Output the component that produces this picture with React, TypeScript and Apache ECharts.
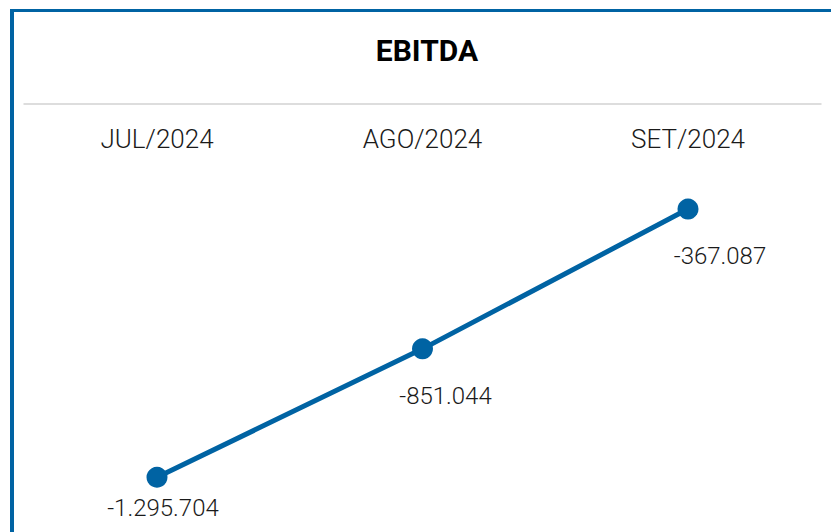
import React, { useEffect, useRef } from "react";
import * as echarts from "echarts";

const categories = ["JUL/2024", "AGO/2024", "SET/2024"];
const ebitda = [-1295704, -851044, -367087];
const valueLabels = ["-1.295.704", "-851.044", "-367.087"];

const BLUE = "#0063A3";
const FONT = "Roboto";

export default function App() {
  const ref = useRef<HTMLDivElement>(null);
  useEffect(() => {
    if (!ref.current) return;
    const chart = echarts.init(ref.current, undefined, { renderer: "svg" });
    const labelOffsets = [
      [6, 31],
      [23, 47],
      [32, 47],
    ];
    chart.setOption({
      animation: false,
      backgroundColor: "#ffffff",
      grid: { left: 24.25, right: 10.25, top: 104, bottom: 0 },
      xAxis: {
        type: "category",
        data: categories,
        position: "top",
        boundaryGap: true,
        axisLine: { show: true, lineStyle: { color: "#dddddd", width: 2 } },
        axisTick: { show: false },
        splitLine: { show: false },
        axisLabel: {
          inside: true,
          margin: 35,
          verticalAlign: "middle",
          color: "#1a1a1a",
          fontFamily: FONT,
          fontWeight: 300,
          fontSize: 26,
        },
      },
      yAxis: {
        type: "value",
        min: -1485240,
        max: -3262,
        show: false,
        splitLine: { show: false },
      },
      graphic: [
        { type: "rect", shape: { x: 10, y: 9, width: 821, height: 3 }, style: { fill: BLUE } },
        { type: "rect", shape: { x: 10, y: 9, width: 4, height: 523 }, style: { fill: BLUE } },
        {
          type: "text",
          x: 427,
          y: 50,
          style: {
            text: "EBITDA",
            align: "center",
            verticalAlign: "middle",
            fontFamily: FONT,
            fontWeight: "bold",
            fontSize: 30,
            fill: "#000000",
          },
        },
      ],
      series: [
        {
          type: "line",
          data: ebitda.map((v, i) => ({
            value: v,
            label: {
              show: true,
              position: "inside",
              offset: labelOffsets[i],
              formatter: () => valueLabels[i],
            },
          })),
          symbol: "circle",
          symbolSize: 21,
          lineStyle: { color: BLUE, width: 5 },
          itemStyle: { color: BLUE },
          label: {
            show: true,
            color: "#1a1a1a",
            fontFamily: FONT,
            fontWeight: 300,
            fontSize: 24,
          },
        },
      ],
    });
    return () => chart.dispose();
  }, []);
  return (
    <div
      ref={ref}
      style={{ position: "fixed", left: 0, top: 0, width: 831, height: 532 }}
    />
  );
}
